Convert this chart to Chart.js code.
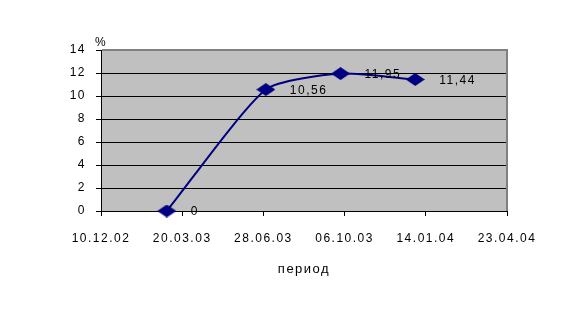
<!DOCTYPE html>
<html lang="ru">
<head>
    <meta charset="UTF-8">
    <title>Доходность, %</title>
    <script src="https://cdn.jsdelivr.net/npm/chart.js"></script>
    <style>
        body {
            margin: 0;
            background: #ffffff;
        }
        #wrap {
            width: 586px;
            height: 317px;
        }
    </style>
</head>
<body>
    <div id="wrap"><canvas id="yieldChart" width="586" height="317"></canvas></div>

    <script>
        // data
        const pointDates = ["01.03.03", "01.07.03", "01.10.03", "01.01.04"];
        const yieldValues = [0, 10.56, 11.95, 11.44];
        const tickLabels = ["10.12.02", "20.03.03", "28.06.03", "06.10.03", "14.01.04", "23.04.04"];
        const yTickMax = 14;
        const yTickStep = 2;

        const FONT = "'Liberation Sans', Arial, sans-serif";
        const NAVY = "#000080";

        // dd.mm.yy -> day number
        function toDay(s) {
            const [d, m, y] = s.split(".").map(Number);
            return Date.UTC(2000 + y, m - 1, d) / 86400000;
        }

        const points = pointDates.map((d, i) => ({x: toDay(d), y: yieldValues[i]}));

        // Excel-like diamond marker
        const marker = document.createElement("canvas");
        marker.width = 19;
        marker.height = 13;
        const mctx = marker.getContext("2d");
        mctx.fillStyle = NAVY;
        mctx.beginPath();
        mctx.moveTo(9.5, 0);
        mctx.lineTo(19, 6.5);
        mctx.lineTo(9.5, 13);
        mctx.lineTo(0, 6.5);
        mctx.closePath();
        mctx.fill();

        const spacing = {
            id: "spacing",
            beforeInit(chart) { chart.ctx.letterSpacing = "1.5px"; },
            beforeUpdate(chart) { chart.ctx.letterSpacing = "1.5px"; },
            beforeDraw(chart) { chart.ctx.letterSpacing = "1.5px"; }
        };

        const plotArea = {
            id: "plotArea",
            beforeDraw(chart) {
                const {ctx, chartArea: a} = chart;
                ctx.save();
                ctx.fillStyle = "#c0c0c0";
                ctx.fillRect(a.left, a.top, a.right - a.left, a.bottom - a.top);
                ctx.restore();
            },
            beforeDatasetsDraw(chart) {
                const {ctx, chartArea: a} = chart;
                ctx.save();
                ctx.strokeStyle = "#808080";
                ctx.lineWidth = 2;
                ctx.beginPath();
                ctx.moveTo(a.left + 1, a.top);
                ctx.lineTo(a.right + 1, a.top);
                ctx.moveTo(a.right, a.top);
                ctx.lineTo(a.right, a.bottom);
                ctx.stroke();
                ctx.restore();
            }
        };

        const labels = {
            id: "labels",
            afterDatasetsDraw(chart) {
                const {ctx} = chart;
                const meta = chart.getDatasetMeta(0);
                ctx.save();
                ctx.font = "12px " + FONT;
                ctx.fillStyle = "#000000";
                ctx.textAlign = "left";
                ctx.textBaseline = "middle";
                meta.data.forEach((pt, i) => {
                    ctx.fillText(String(yieldValues[i]).replace(".", ","), pt.x + 24, pt.y + 1);
                });
                // axis captions
                ctx.textAlign = "center";
                ctx.fillText("%", chart.chartArea.left, 43);
                ctx.font = "13px " + FONT;
                ctx.fillText("период", 304, 269);
                ctx.restore();
            }
        };

        const ctx = document.getElementById("yieldChart").getContext("2d");
        new Chart(ctx, {
            type: "line",
            data: {
                datasets: [{
                    data: points,
                    borderColor: NAVY,
                    borderWidth: 2,
                    tension: 0.2,
                    clip: false,
                    pointStyle: marker,
                    pointRadius: 8,
                    fill: false
                }]
            },
            options: {
                responsive: false,
                animation: false,
                layout: {
                    padding: {top: 50, right: 79, bottom: 0, left: 0}
                },
                plugins: {
                    legend: {display: false},
                    tooltip: {enabled: false}
                },
                scales: {
                    x: {
                        type: "linear",
                        min: toDay(tickLabels[0]),
                        max: toDay(tickLabels[tickLabels.length - 1]),
                        afterFit: s => { s.height = 106; },
                        ticks: {
                            stepSize: 100,
                            autoSkip: false,
                            maxRotation: 0,
                            padding: 15,
                            color: "#000000",
                            font: {family: FONT, size: 12},
                            callback: (v, i) => tickLabels[i]
                        },
                        grid: {
                            drawOnChartArea: false,
                            color: "#000000",
                            tickLength: 5
                        },
                        border: {color: "#000000", width: 1}
                    },
                    y: {
                        min: 0,
                        max: yTickMax,
                        afterFit: s => { s.width = 101; },
                        ticks: {
                            stepSize: yTickStep,
                            padding: 10,
                            color: "#000000",
                            font: {family: FONT, size: 12}
                        },
                        grid: {
                            color: "#000000",
                            tickLength: 5
                        },
                        border: {color: "#000000", width: 1}
                    }
                }
            },
            plugins: [spacing, plotArea, labels]
        });
    </script>
</body>
</html>
